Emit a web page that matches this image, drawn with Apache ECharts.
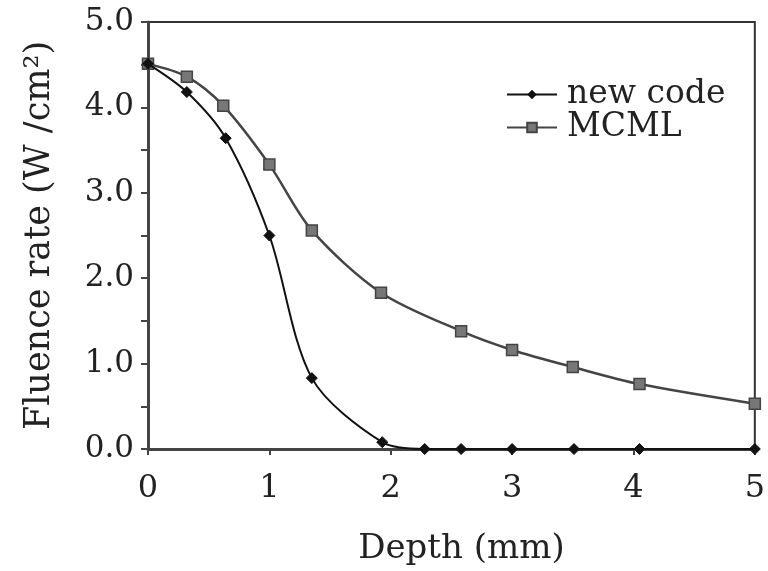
<!DOCTYPE html>
<html>
<head>
<meta charset="utf-8">
<script src="https://cdn.jsdelivr.net/npm/echarts@6/dist/echarts.min.js"></script>
<style>
html, body { margin: 0; padding: 0; background: #fff; }
#main { width: 768px; height: 571px; }
</style>
</head>
<body>
<div id="main"></div>
<script>
// depth (mm) and fluence rate (W/cm^2)
var newCodeDepth = [0, 0.32, 0.64, 1.0, 1.35, 1.93, 2.28, 2.58, 3.0, 3.51, 4.05, 5.0];
var newCodeRate  = [4.51, 4.18, 3.64, 2.5, 0.83, 0.08, 0, 0, 0, 0, 0, 0];
var mcmlDepth = [0, 0.32, 0.62, 1.0, 1.35, 1.92, 2.58, 3.0, 3.5, 4.05, 5.0];
var mcmlRate  = [4.51, 4.36, 4.02, 3.33, 2.56, 1.83, 1.38, 1.16, 0.96, 0.76, 0.53];

var seriesNames = ['new code', 'MCML'];

function pairs(xs, ys) {
    var out = [];
    for (var i = 0; i < xs.length; i++) out.push([xs[i], ys[i]]);
    return out;
}

var chart = echarts.init(document.getElementById('main'));
var serif = 'DejaVu Serif';

var option = {
    backgroundColor: '#fff',
    animation: false,
    grid: {
        left: 148, right: 9, top: 22, bottom: 121,
        show: true,
        borderColor: '#333',
        borderWidth: 2
    },
    legend: {
        data: seriesNames,
        orient: 'vertical',
        left: 501,
        top: 73,
        itemGap: 0,
        itemWidth: 50,
        itemHeight: 12,
        textStyle: {
            fontFamily: serif, fontSize: 33, color: '#222',
            lineHeight: 29, padding: [0, 0, 0, 5]
        }
    },
    xAxis: {
        type: 'value',
        min: 0, max: 5, interval: 1,
        name: 'Depth (mm)',
        nameLocation: 'middle',
        nameGap: 83,
        nameTextStyle: { fontFamily: serif, fontSize: 34, color: '#222', padding: [0, 0, 0, 20] },
        axisLine: { lineStyle: { color: '#444', width: 3 } },
        axisTick: { length: 6, lineStyle: { color: '#444', width: 2 } },
        axisLabel: { fontFamily: serif, fontSize: 32, color: '#222', margin: 24 },
        splitLine: { show: false }
    },
    yAxis: {
        type: 'value',
        min: 0, max: 5, interval: 0.5,
        name: 'Fluence rate (W /cm²)',
        nameLocation: 'middle',
        nameGap: 91,
        nameTextStyle: { fontFamily: serif, fontSize: 35, color: '#222' },
        axisLine: { lineStyle: { color: '#444', width: 3 } },
        axisTick: { length: 7, lineStyle: { color: '#444', width: 2 } },
        axisLabel: {
            fontFamily: serif, fontSize: 31, color: '#222', margin: 14,
            formatter: function (v) { return v % 1 === 0 ? v.toFixed(1) : ''; }
        },
        splitLine: { show: false }
    },
    series: [
        {
            name: seriesNames[0],
            type: 'line',
            data: pairs(newCodeDepth, newCodeRate),
            smooth: 0.3,
            clip: false,
            symbol: 'diamond',
            symbolSize: 11,
            lineStyle: { color: '#111', width: 2 },
            itemStyle: { color: '#111', borderColor: '#111' },
            z: 3
        },
        {
            name: seriesNames[1],
            type: 'line',
            data: pairs(mcmlDepth, mcmlRate),
            smooth: 0.3,
            clip: false,
            symbol: 'rect',
            symbolSize: 11,
            lineStyle: { color: '#444', width: 2.5 },
            itemStyle: { color: '#777', borderColor: '#444', borderWidth: 1.5 },
            z: 2
        }
    ]
};

chart.setOption(option);
</script>
</body>
</html>
